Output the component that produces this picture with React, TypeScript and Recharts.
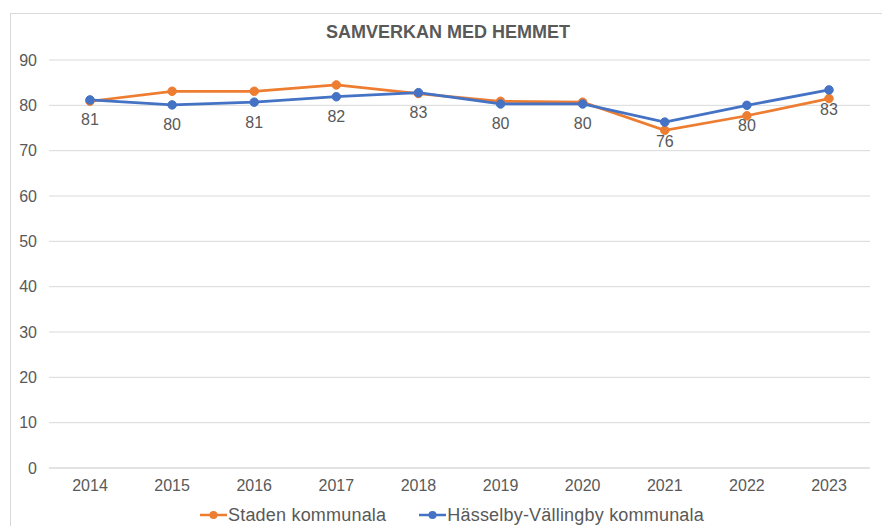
import { LineChart, Line, XAxis, YAxis, CartesianGrid, Legend, LabelList } from 'recharts'

const years = ['2014', '2015', '2016', '2017', '2018', '2019', '2020', '2021', '2022', '2023']
const staden = [80.9, 83.1, 83.1, 84.5, 82.6, 80.9, 80.7, 74.5, 77.7, 81.5]
const hasselby = [81.2, 80.1, 80.7, 81.9, 82.8, 80.3, 80.3, 76.3, 80.0, 83.4]
const yTicks = [0, 10, 20, 30, 40, 50, 60, 70, 80, 90]

const seriesNames = ['Staden kommunala', 'Hässelby-Vällingby kommunala']
const colors = ['#ED7D31', '#4472C4']

const data = years.map((year, i) => ({
  year,
  staden: staden[i],
  hasselby: hasselby[i],
}))

const font = '"Liberation Sans", Arial, sans-serif'
const textColor = '#595959'

function LegendIcon({ color }: { color: string }) {
  return (
    <svg width={27} height={12} style={{ display: 'block' }}>
      <line x1={0} y1={6} x2={27} y2={6} stroke={color} strokeWidth={2.5} />
      <circle cx={13.5} cy={6} r={4} fill={color} />
    </svg>
  )
}

function ChartLegend() {
  return (
    <div
      style={{
        height: 28,
        boxSizing: 'border-box',
        paddingTop: 6,
        paddingLeft: 34,
        display: 'flex',
        justifyContent: 'center',
        alignItems: 'center',
        fontFamily: font,
        fontSize: 18,
        letterSpacing: 0.2,
        color: textColor,
      }}
    >
      {seriesNames.map((name, i) => (
        <div key={name} style={{ display: 'flex', alignItems: 'center', marginLeft: i ? 33 : 0 }}>
          <LegendIcon color={colors[i]} />
          <span style={{ marginLeft: 1 }}>{name}</span>
        </div>
      ))}
    </div>
  )
}

export default function App() {
  return (
    <div style={{ position: 'fixed', left: 0, top: 0, width: 882, height: 526, overflow: 'hidden', background: '#fff' }}>
      <div
        style={{
          position: 'absolute',
          left: 10,
          top: 13,
          width: 900,
          height: 540,
          border: '1px solid #d9d9d9',
        }}
      />
      <div
        style={{
          position: 'absolute',
          top: 22,
          left: 14,
          width: 868,
          textAlign: 'center',
          fontFamily: font,
          fontSize: 18,
          fontWeight: 'bold',
          color: textColor,
        }}
      >
        SAMVERKAN MED HEMMET
      </div>
      <div style={{ position: 'absolute', left: 0, top: 0 }}>
        <LineChart width={882} height={526} data={data} margin={{ top: 60, right: 12, bottom: 0, left: 0 }}>
          <CartesianGrid vertical={false} stroke="#d9d9d9" />
          <XAxis
            dataKey="year"
            padding={{ left: 41, right: 41 }}
            tickLine={false}
            axisLine={{ stroke: '#d9d9d9' }}
            tick={{ fill: textColor, fontSize: 16, fontFamily: font }}
            tickMargin={6}
            height={30}
          />
          <YAxis
            domain={[0, 90]}
            ticks={yTicks}
            axisLine={false}
            tickLine={false}
            tick={{ fill: textColor, fontSize: 16, fontFamily: font }}
            tickMargin={6}
            width={49}
          />
          <Legend verticalAlign="bottom" content={() => <ChartLegend />} />
          <Line
            dataKey="staden"
            name={seriesNames[0]}
            stroke={colors[0]}
            strokeWidth={2.75}
            dot={{ r: 4.25, fill: colors[0], stroke: colors[0], strokeWidth: 1 }}
            isAnimationActive={false}
          />
          <Line
            dataKey="hasselby"
            name={seriesNames[1]}
            stroke={colors[1]}
            strokeWidth={2.75}
            dot={{ r: 4.25, fill: colors[1], stroke: colors[1], strokeWidth: 1 }}
            isAnimationActive={false}
          >
            <LabelList
              dataKey="hasselby"
              position="bottom"
              offset={14}
              formatter={(v: any) => Math.round(Number(v))}
              style={{ fill: textColor, fontSize: 16, fontFamily: font }}
            />
          </Line>
        </LineChart>
      </div>
    </div>
  )
}
